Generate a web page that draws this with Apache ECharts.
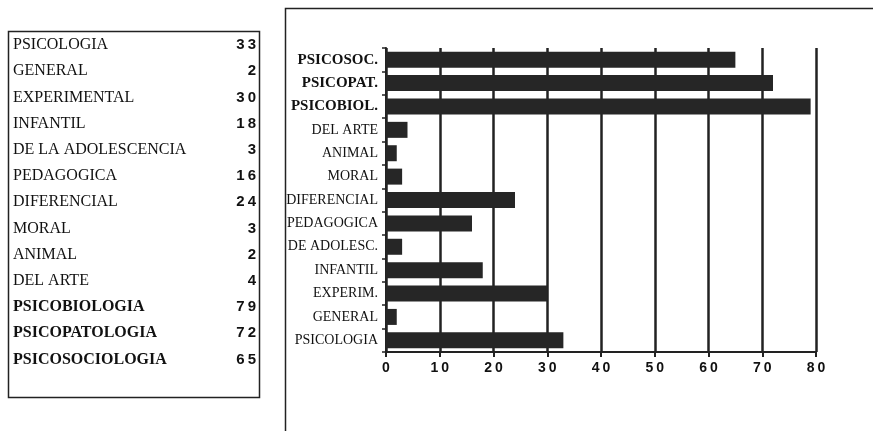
<!DOCTYPE html>
<html>
<head>
<meta charset="utf-8">
<script src="https://cdn.jsdelivr.net/npm/echarts@6/dist/echarts.min.js"></script>
<style>
html,body{margin:0;padding:0;background:#fff;}
#c{width:873px;height:431px;}
</style>
</head>
<body>
<div id="c"></div>
<script>
// Table (left panel)
var tableNames = ['PSICOLOGIA','GENERAL','EXPERIMENTAL','INFANTIL','DE LA ADOLESCENCIA','PEDAGOGICA','DIFERENCIAL','MORAL','ANIMAL','DEL ARTE','PSICOBIOLOGIA','PSICOPATOLOGIA','PSICOSOCIOLOGIA'];
var tableValues = [33,2,30,18,3,16,24,3,2,4,79,72,65];

// Bar chart (right panel), bottom to top
var categories = ['PSICOLOGIA','GENERAL','EXPERIM.','INFANTIL','DE ADOLESC.','PEDAGOGICA','DIFERENCIAL','MORAL','ANIMAL','DEL ARTE','PSICOBIOL.','PSICOPAT.','PSICOSOC.'];
var values = [33,2,30,18,3,16,24,3,2,4,79,72,65];
var xTicks = [0,10,20,30,40,50,60,70,80];
var boldCats = ['PSICOBIOL.','PSICOPAT.','PSICOSOC.'];
var boldRows = ['PSICOBIOLOGIA','PSICOPATOLOGIA','PSICOSOCIOLOGIA'];

function spaced(s){ return String(s).split('').join('\u2009'); }

var chart = echarts.init(document.getElementById('c'), null, {renderer:'canvas'});

var graphics = [
  {type:'rect', shape:{x:8.5,y:31.5,width:251,height:366}, style:{fill:'none',stroke:'#222',lineWidth:1.5}, z:0},
  {type:'polyline', shape:{points:[[285.5,440],[285.5,8.5],[873,8.5]]}, style:{fill:'none',stroke:'#222',lineWidth:1.5}, z:0}
];
tableNames.forEach(function(n,i){
  var y = 45 + i*26.2;
  var b = boldRows.indexOf(n) >= 0;
  graphics.push({type:'text', x:13, y:y, style:{text:n, font:(b?'bold ':'')+'16px "Liberation Serif"', fill:'#111', textVerticalAlign:'middle', textAlign:'left'}});
  graphics.push({type:'text', x:256, y:y, style:{text:spaced(tableValues[i]), font:'bold 15px "Liberation Sans"', fill:'#111', textVerticalAlign:'middle', textAlign:'right'}});
});

chart.setOption({
  animation:false,
  backgroundColor:'#fff',
  grid:{left:386, top:48, width:430, height:304, containLabel:false},
  xAxis:{
    type:'value', min:0, max:80, interval:10,
    axisLine:{show:true, onZero:false, lineStyle:{color:'#222', width:2}},
    axisTick:{show:true, length:5, lineStyle:{color:'#222', width:2}},
    axisLabel:{show:true, margin:9, color:'#111', fontFamily:'Liberation Sans', fontWeight:'bold', fontSize:14,
      formatter:function(v){ return xTicks.indexOf(v)>=0 ? spaced(v) : ''; }},
    splitLine:{show:true, lineStyle:{color:'#222', width:2.5}}
  },
  yAxis:{
    type:'category', data:categories,
    axisLine:{show:true, lineStyle:{color:'#222', width:2}},
    axisTick:{show:true, length:4, alignWithLabel:false, lineStyle:{color:'#222', width:1.5}},
    axisLabel:{margin:8, color:'#111', fontFamily:'Liberation Serif', fontSize:14,
      formatter:function(v){ return boldCats.indexOf(v)>=0 ? '{b|'+v+'}' : '{n|'+v+'}'; },
      rich:{b:{fontFamily:'Liberation Serif', fontWeight:'bold', fontSize:15, color:'#111'}, n:{fontFamily:'Liberation Serif', fontSize:14, color:'#111'}}
    },
    splitLine:{show:false}
  },
  series:[{
    type:'bar', data:values, barWidth:16,
    itemStyle:{color:'#262626'},
    z:3
  }],
  graphic:graphics
});
</script>
</body>
</html>
